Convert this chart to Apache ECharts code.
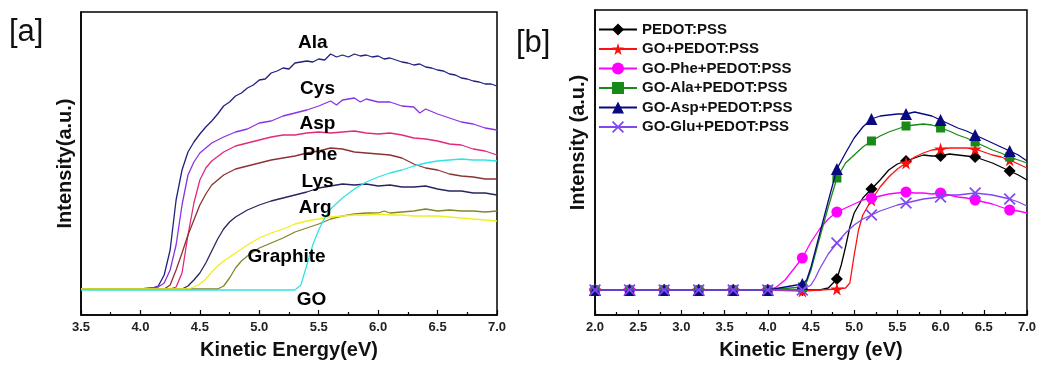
<!DOCTYPE html>
<html><head><meta charset="utf-8">
<script src="https://cdn.jsdelivr.net/npm/echarts@6/dist/echarts.min.js"></script>
<style>html,body{margin:0;padding:0;background:#fff}#c{width:1039px;height:365px}</style>
</head><body><div id="c"></div><script>
// ---------- Panel [a] : curves (energy eV, intensity a.u.) ----------
const aNames = ['Ala','Cys','Asp','Phe','Lys','Arg','Graphite','GO'];
const aColors = ['#22227e','#8a33e6','#e2297a','#8b3232','#262660','#84842a','#f0ef20','#33e3e3'];
const ala = [[3.5,26],[4.0,26],[4.1,27],[4.15,29],[4.2,40],[4.25,65],[4.3,115],[4.35,145],[4.4,163],[4.45,173],[4.5,181],[4.55,188],[4.6,194],[4.65,201],[4.7,209],[4.75,213],[4.8,219],[4.85,222],[4.9,227],[4.95,230],[5.0,235],[5.05,236],[5.1,242],[5.15,244],[5.2,247],[5.25,246],[5.3,252],[5.35,253],[5.4,254],[5.45,253],[5.5,256],[5.55,255],[5.6,261],[5.65,258],[5.7,260],[5.75,258],[5.8,261],[5.85,259],[5.9,260],[5.95,258],[6.0,259],[6.05,256],[6.1,257],[6.15,255],[6.2,253],[6.25,252],[6.3,250],[6.35,251],[6.4,248],[6.45,247],[6.5,245],[6.55,244],[6.6,241],[6.65,240],[6.7,237],[6.75,236],[6.8,234],[6.85,233],[6.9,231],[6.95,231],[7.0,229]];
const cys = [[3.5,26],[4.0,26],[4.1,27],[4.15,28],[4.2,32],[4.25,45],[4.3,70],[4.35,110],[4.4,140],[4.45,153],[4.5,162],[4.55,167],[4.6,172],[4.7,178],[4.8,183],[4.9,186],[5.0,192],[5.1,194],[5.2,199],[5.3,202],[5.4,205],[5.5,209],[5.6,214],[5.65,210],[5.7,215],[5.8,217],[5.85,213],[5.9,216],[6.0,213],[6.1,213],[6.2,209],[6.3,208],[6.35,202],[6.4,206],[6.5,201],[6.6,197],[6.7,193],[6.8,191],[6.9,187],[7.0,185]];
const asp = [[3.5,26],[4.25,26],[4.3,28],[4.35,42],[4.4,80],[4.45,112],[4.5,135],[4.55,147],[4.6,154],[4.7,163],[4.8,169],[4.9,172],[5.0,175],[5.1,178],[5.2,180],[5.3,180],[5.4,182],[5.5,183],[5.6,182],[5.7,183],[5.8,184],[5.9,182],[6.0,181],[6.1,182],[6.2,180],[6.3,177],[6.4,176],[6.5,174],[6.6,171],[6.7,170],[6.8,166],[6.9,164],[7.0,160]];
const phe = [[3.5,26],[4.2,26],[4.25,30],[4.3,45],[4.35,62],[4.4,80],[4.45,95],[4.5,110],[4.55,121],[4.6,130],[4.7,140],[4.8,146],[4.9,149],[5.0,152],[5.1,155],[5.2,157],[5.3,159],[5.4,162],[5.5,164],[5.6,167],[5.7,166],[5.8,163],[5.9,162],[6.0,161],[6.1,160],[6.2,157],[6.3,151],[6.4,147],[6.5,145],[6.6,141],[6.7,139],[6.8,138],[6.9,136],[7.0,136]];
const lys = [[3.5,26],[4.35,26],[4.4,29],[4.45,35],[4.5,42],[4.55,52],[4.6,64],[4.65,76],[4.7,86],[4.75,93],[4.8,98],[4.9,105],[5.0,110],[5.1,114],[5.2,117],[5.3,120],[5.4,123],[5.5,127],[5.6,129],[5.7,131],[5.8,130],[5.9,131],[6.0,129],[6.1,130],[6.2,128],[6.3,128],[6.4,129],[6.5,126],[6.6,124],[6.7,124],[6.8,122],[6.9,122],[7.0,120]];
const arg = [[3.5,26],[4.65,26],[4.7,29],[4.75,37],[4.8,47],[4.85,54],[4.9,59],[5.0,67],[5.1,72],[5.2,77],[5.3,83],[5.4,87],[5.5,91],[5.6,96],[5.7,99],[5.8,101],[5.9,102],[6.0,102],[6.05,104],[6.1,102],[6.2,103],[6.3,104],[6.4,106],[6.5,104],[6.6,105],[6.7,104],[6.8,104],[6.9,103],[7.0,104]];
const graphite = [[3.5,26],[4.4,26],[4.45,28],[4.5,31],[4.55,36],[4.6,43],[4.65,49],[4.7,54],[4.8,62],[4.9,70],[5.0,77],[5.1,82],[5.2,86],[5.3,91],[5.4,94],[5.5,96],[5.6,98],[5.7,99],[5.8,100],[5.9,100],[6.0,101],[6.1,100],[6.2,100],[6.3,99],[6.4,99],[6.5,99],[6.6,98],[6.7,97],[6.8,96],[6.9,95],[7.0,94]];
const go = [[3.5,25],[5.3,25],[5.35,30],[5.4,50],[5.45,70],[5.5,85],[5.55,97],[5.6,106],[5.7,117],[5.8,126],[5.9,133],[6.0,138],[6.1,142],[6.2,145],[6.3,149],[6.4,152],[6.5,154],[6.6,155],[6.7,156],[6.8,155],[6.9,155],[7.0,154]];
const aCurves = [ala, cys, asp, phe, lys, arg, graphite, go];
// label anchor positions (energy, intensity)
const aLabelPos = [[5.45,272],[5.49,226],[5.49,191],[5.51,160],[5.49,133],[5.47,107],[5.23,58],[5.44,15]];

// ---------- Panel [b] ----------
const bNames = ['PEDOT:PSS','GO+PEDOT:PSS','GO-Phe+PEDOT:PSS','GO-Ala+PEDOT:PSS','GO-Asp+PEDOT:PSS','GO-Glu+PEDOT:PSS'];
const bColors = ['#000000','#ff1010','#ff00ff','#178a17','#0a0a80','#8048f0'];
const markerX = [2.0,2.4,2.8,3.2,3.6,4.0,4.4,4.8,5.2,5.6,6.0,6.4,6.8];
const pedot = [[2.0,25],[2.4,25],[2.8,25],[3.2,25],[3.6,25],[4.0,25],[4.4,25],[4.6,25],[4.7,27],[4.8,36],[4.85,50],[4.9,68],[4.95,88],[5.0,102],[5.1,117],[5.2,126],[5.3,135],[5.4,145],[5.5,151],[5.6,154],[5.7,157],[5.8,160],[5.9,159],[6.0,159],[6.1,161],[6.2,160],[6.3,159],[6.4,158],[6.5,155],[6.6,152],[6.7,148],[6.8,144],[6.9,140],[7.0,135]];
const goPedot = [[2.0,25],[2.4,25],[2.8,25],[3.2,25],[3.6,25],[4.0,25],[4.4,24],[4.8,26],[4.9,27],[4.95,32],[5.0,60],[5.05,85],[5.1,100],[5.2,115],[5.3,128],[5.4,138],[5.5,146],[5.6,152],[5.7,158],[5.8,162],[5.9,165],[6.0,166],[6.1,167],[6.2,167],[6.3,167],[6.4,166],[6.5,163],[6.6,160],[6.7,158],[6.8,155],[6.9,151],[7.0,147]];
const phePedot = [[2.0,25],[2.4,25],[2.8,25],[3.2,25],[3.6,25],[4.0,25],[4.1,28],[4.2,35],[4.3,46],[4.4,57],[4.5,73],[4.6,86],[4.7,96],[4.8,103],[4.9,107],[5.0,111],[5.1,115],[5.2,117],[5.3,119],[5.4,121],[5.5,122],[5.6,123],[5.7,122],[5.8,122],[5.9,121],[6.0,122],[6.1,120],[6.2,118],[6.3,117],[6.4,115],[6.5,113],[6.6,111],[6.7,108],[6.8,105],[6.9,104],[7.0,102]];
const alaPedot = [[2.0,25],[2.4,25],[2.8,25],[3.2,25],[3.6,25],[4.0,25],[4.4,28],[4.45,33],[4.5,45],[4.6,77],[4.7,108],[4.8,137],[4.9,152],[5.0,160],[5.1,168],[5.2,174],[5.3,179],[5.4,183],[5.5,186],[5.6,189],[5.7,190],[5.8,191],[5.9,190],[6.0,187],[6.1,184],[6.2,180],[6.3,177],[6.4,173],[6.5,169],[6.6,165],[6.7,162],[6.8,158],[6.9,155],[7.0,152]];
const aspPedot = [[2.0,25],[2.4,25],[2.8,25],[3.2,25],[3.6,25],[4.0,25],[4.4,31],[4.45,35],[4.5,48],[4.6,81],[4.7,114],[4.8,146],[4.9,162],[5.0,177],[5.1,188],[5.2,196],[5.3,199],[5.4,200],[5.5,201],[5.6,201],[5.7,203],[5.8,201],[5.9,199],[6.0,195],[6.1,191],[6.2,187],[6.3,184],[6.4,180],[6.5,176],[6.6,172],[6.7,168],[6.8,164],[6.9,160],[7.0,154]];
const gluPedot = [[2.0,25],[2.4,25],[2.8,25],[3.2,25],[3.6,25],[4.0,25],[4.4,25],[4.5,30],[4.55,37],[4.6,46],[4.7,61],[4.8,72],[4.9,82],[5.0,90],[5.1,96],[5.2,100],[5.3,104],[5.4,107],[5.5,110],[5.6,112],[5.7,114],[5.8,116],[5.9,117],[6.0,118],[6.1,120],[6.2,120],[6.3,121],[6.4,122],[6.5,121],[6.6,120],[6.7,118],[6.8,116],[6.9,113],[7.0,109]];
const bCurves = [pedot, goPedot, phePedot, alaPedot, aspPedot, gluPedot];

const STAR = 'path://M50,0 L61,35 L98,35 L68,57 L79,91 L50,70 L21,91 L32,57 L2,35 L39,35 Z';
const XMARK = 'path://M0,1 L1,0 L5,4 L9,0 L10,1 L6,5 L10,9 L9,10 L5,6 L1,10 L0,9 L4,5 Z';
const bSymbols = ['diamond', STAR, 'circle', 'rect', 'triangle', XMARK];
const bSizes = [12, 13, 11, 9, 12, 12];

const FONT = 'Liberation Sans, Arial, sans-serif';
const chart = echarts.init(document.getElementById('c'));

function xAxisCfg(idx, min, max, name) {
  return {
    gridIndex: idx, type: 'value', min: min, max: max, interval: 0.5,
    name: name, nameLocation: 'middle', nameGap: 25,
    nameTextStyle: {fontFamily: FONT, fontWeight: 'bold', fontSize: 20, color: '#111'},
    axisLine: {lineStyle: {color: '#000', width: 1.5}},
    axisTick: {inside: true, length: 5, lineStyle: {color: '#000', width: 1.2}},
    minorTick: {show: true, splitNumber: 2, length: 3, lineStyle: {color: '#000', width: 1.2}},
    axisLabel: {fontFamily: FONT, fontWeight: 'bold', fontSize: 13, color: '#222', margin: 6,
      formatter: v => v.toFixed(1)},
    splitLine: {show: false}
  };
}
function yAxisCfg(idx, max, name, gap, pad) {
  return {
    gridIndex: idx, type: 'value', min: 0, max: max,
    name: name, nameLocation: 'middle', nameGap: gap, nameRotate: 90,
    nameTextStyle: {fontFamily: FONT, fontWeight: 'bold', fontSize: 20, color: '#111', padding: pad},
    axisLine: {show: true, lineStyle: {color: '#000', width: 1.5}},
    axisTick: {show: false}, axisLabel: {show: false}, splitLine: {show: false}
  };
}

const series = [];
aCurves.forEach((d, i) => {
  series.push({name: aNames[i], type: 'line', xAxisIndex: 0, yAxisIndex: 0, data: d,
    showSymbol: false, symbol: 'none', lineStyle: {color: aColors[i], width: 1.3}, silent: true, z: 2});
});
series.push({type: 'scatter', xAxisIndex: 0, yAxisIndex: 0, symbolSize: 1, silent: true, z: 5,
  itemStyle: {color: 'rgba(0,0,0,0)', opacity: 1},
  data: aLabelPos.map((p, i) => ({value: p, name: aNames[i]})),
  label: {show: true, position: 'inside', formatter: p => p.name, textBorderWidth: 0, opacity: 1,
    fontFamily: FONT, fontWeight: 'bold', fontSize: 19, color: '#000'}});

bCurves.forEach((d, i) => {
  series.push({name: bNames[i], type: 'line', xAxisIndex: 1, yAxisIndex: 1,
    symbol: bSymbols[i], symbolSize: bSizes[i], showSymbol: true, showAllSymbol: true,
    data: d.map(p => markerX.some(m => Math.abs(m - p[0]) < 1e-6) ? {value: p} : {value: p, symbol: 'none'}),
    lineStyle: {color: bColors[i], width: 1.3},
    itemStyle: {color: bColors[i]}, z: 2 + i});
});

chart.setOption({
  animation: false,
  backgroundColor: '#fff',
  title: [
    {text: '[a]', left: 9, top: 17, padding: 0, textStyle: {fontFamily: FONT, fontWeight: 'normal', fontSize: 31, color: '#111'}},
    {text: '[b]', left: 516, top: 28, padding: 0, textStyle: {fontFamily: FONT, fontWeight: 'normal', fontSize: 31, color: '#111'}}
  ],
  grid: [
    {left: 81, right: 542, top: 12, bottom: 50, show: true, borderColor: '#000', borderWidth: 1.5},
    {left: 595, right: 11, top: 10, bottom: 50, show: true, borderColor: '#000', borderWidth: 1.5}
  ],
  xAxis: [xAxisCfg(0, 3.5, 7.0, 'Kinetic Energy(eV)'), xAxisCfg(1, 2.0, 7.0, 'Kinetic Energy (eV)')],
  yAxis: [yAxisCfg(0, 303, 'Intensity(a.u.)', 6, 0), yAxisCfg(1, 305, 'Intensity (a.u.)', 7, [0, 0, 0, 40])],
  legend: {
    data: bNames, orient: 'vertical', left: 593, top: 17, itemWidth: 38, itemHeight: 15, itemGap: 4.5,
    textStyle: {fontFamily: FONT, fontWeight: 'bold', fontSize: 15, color: '#111'}, selectedMode: false
  },
  series: series
});
</script></body></html>
